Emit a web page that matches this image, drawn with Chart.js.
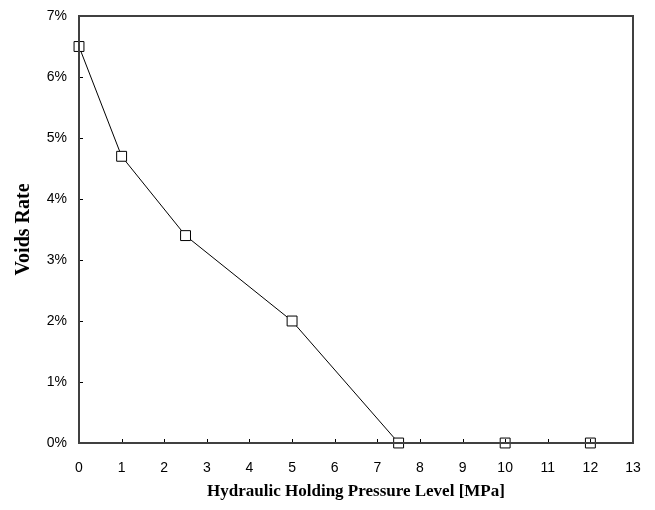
<!DOCTYPE html>
<html>
<head>
<meta charset="utf-8">
<script src="https://cdn.jsdelivr.net/npm/chart.js@4/dist/chart.umd.min.js"></script>
<style>
html,body{margin:0;padding:0;background:#fff;}
#wrap{width:655px;height:510px;position:relative;}
</style>
</head>
<body>
<div id="wrap"><canvas id="c" width="655" height="510"></canvas></div>
<script>
const pressure = [0, 1, 2.5, 5, 7.5, 10, 12];
const voidsRate = [6.5, 4.7, 3.4, 2.0, 0, 0, 0];
const xTitle = 'Hydraulic Holding Pressure Level [MPa]';
const yTitle = 'Voids Rate';

const points = pressure.map((x, i) => ({x: x, y: voidsRate[i]}));

const frameAndTicks = {
  id: 'frameAndTicks',
  afterDatasetsDraw(chart) {
    const ctx = chart.ctx, a = chart.chartArea;
    const xs = chart.scales.x, ys = chart.scales.y;
    ctx.save();
    ctx.strokeStyle = '#000';
    ctx.lineWidth = 1;
    ctx.beginPath();
    xs.ticks.forEach(t => {
      const px = Math.round(xs.getPixelForValue(t.value)) + 0.5;
      ctx.moveTo(px, a.bottom); ctx.lineTo(px, a.bottom - 4);
    });
    ys.ticks.forEach(t => {
      const py = Math.round(ys.getPixelForValue(t.value)) + 0.5;
      ctx.moveTo(a.left, py); ctx.lineTo(a.left + 4, py);
    });
    ctx.stroke();
    ctx.strokeStyle = '#404040';
    ctx.lineWidth = 2;
    ctx.strokeRect(a.left, a.top, a.right - a.left, a.bottom - a.top);
    ctx.restore();
  }
};

new Chart(document.getElementById('c'), {
  type: 'scatter',
  data: {
    datasets: [{
      data: points,
      showLine: true,
      borderColor: '#000',
      borderWidth: 1,
      backgroundColor: '#fff',
      pointStyle: 'rect',
      pointRadius: 7,
      pointBorderWidth: 1,
      pointBorderColor: '#000',
      pointBackgroundColor: '#fff',
      clip: false
    }]
  },
  options: {
    responsive: false,
    animation: false,
    devicePixelRatio: 1,
    layout: {padding: {left: 0, top: 16, right: 22, bottom: 0}},
    plugins: {legend: {display: false}, tooltip: {enabled: false}},
    scales: {
      x: {
        type: 'linear', min: 0, max: 13,
        afterFit(s) { s.height = 67; s.paddingLeft = 0; s.paddingRight = 0; },
        grid: {display: true, drawOnChartArea: false, drawTicks: false, tickLength: 0},
        border: {display: false},
        ticks: {stepSize: 1, padding: 17, color: '#000', font: {family: 'Liberation Sans', size: 14}, maxRotation: 0},
        title: {display: true, text: xTitle, color: '#000', font: {family: 'Liberation Serif', size: 17, weight: 'bold'}, padding: {top: 0, bottom: 8}}
      },
      y: {
        type: 'linear', min: 0, max: 7,
        afterFit(s) { s.width = 79; s.paddingTop = 0; s.paddingBottom = 0; },
        grid: {display: true, drawOnChartArea: false, drawTicks: false, tickLength: 0},
        border: {display: false},
        ticks: {stepSize: 1, padding: 12, color: '#000', font: {family: 'Liberation Sans', size: 14}, callback: v => v + '%'},
        title: {display: true, text: yTitle, color: '#000', font: {family: 'Liberation Serif', size: 20, weight: 'bold'}, padding: {top: 12, bottom: 0}}
      }
    }
  },
  plugins: [frameAndTicks]
});
</script>
</body>
</html>
